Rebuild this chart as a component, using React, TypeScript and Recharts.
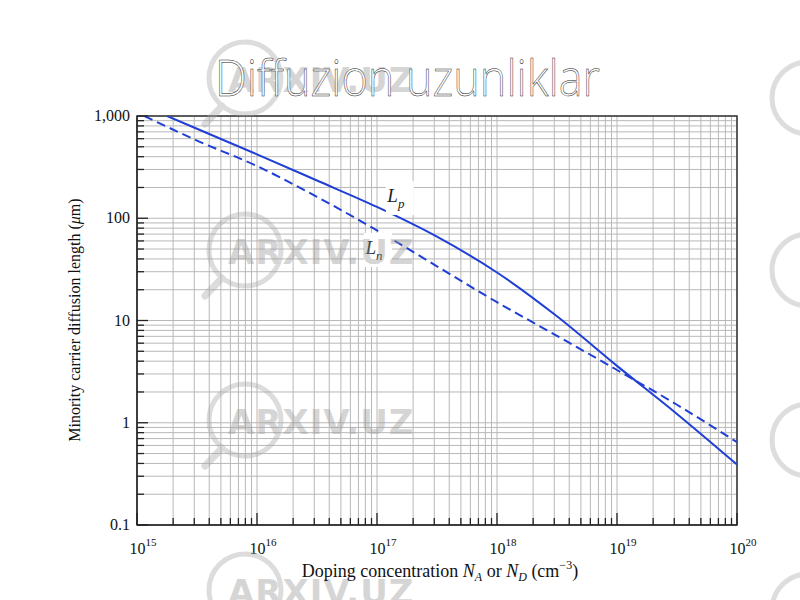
import { LineChart, Line, XAxis, YAxis, CartesianGrid, ReferenceArea, ReferenceDot } from "recharts";

// hole diffusion length L_p (solid)
const lpDoping = [1.78e15, 3.16e15, 1e16, 3.16e16, 1e17, 3.16e17, 1e18, 3.16e18, 1e19, 3.16e19, 1e20];
const lpLength = [1000, 750, 422, 234, 129, 66, 29.5, 11, 3.6, 1.22, 0.39];

// electron diffusion length L_n (dashed)
const lnDoping = [1.15e15, 3.16e15, 1e16, 3.16e16, 1e17, 3.16e17, 1e18, 3.16e18, 1e19, 3.16e19, 1e20];
const lnLength = [1000, 575, 324, 162, 76, 33.9, 15.1, 7.08, 3.28, 1.5, 0.646];

const xDecades = [1e15, 1e16, 1e17, 1e18, 1e19, 1e20];
const xExponents = ["15", "16", "17", "18", "19", "20"];
const yDecades = [0.1, 1, 10, 100, 1000];
const yLabels = ["0.1", "1", "10", "100", "1,000"];

const minorTicks = (decades: number[]) => [
  ...decades.slice(0, -1).flatMap((d) => [1, 2, 3, 4, 5, 6, 7, 8, 9].map((m) => m * d)),
  decades[decades.length - 1],
];

const xTicks = minorTicks(xDecades);
const yTicks = minorTicks(yDecades);

const lpData = lpDoping.map((n, i) => ({ N: n, L: lpLength[i] }));
const lnData = lnDoping.map((n, i) => ({ N: n, L: lnLength[i] }));

const serif = "'Liberation Serif', 'DejaVu Serif', serif";
const blue = "#1f3fd6";

const XTick = (props: any) => {
  const { x, y, index } = props;
  const major = index % 9 === 0;
  return (
    <g>
      <line x1={x} x2={x} y1={y} y2={y - (major ? 12 : 7)} stroke="#222" strokeWidth={1.3} />
      {major && (
        <text x={x + 6} y={y + 29} textAnchor="middle" fontFamily={serif} fontSize={16} fill="#111">
          10
          <tspan dy={-8} fontSize={11}>
            {xExponents[index / 9]}
          </tspan>
        </text>
      )}
    </g>
  );
};

const YTick = (props: any) => {
  const { x, y, index } = props;
  const major = index % 9 === 0;
  return (
    <g>
      <line x1={x} x2={x + (major ? 11 : 7)} y1={y} y2={y} stroke="#222" strokeWidth={1.3} />
      {major && (
        <text x={x - 7} y={y + 5} textAnchor="end" fontFamily={serif} fontSize={16} fill="#111">
          {yLabels[index / 9]}
        </text>
      )}
    </g>
  );
};

const curveLabel = (sub: string) => (p: any) => (
  <g>
    <rect x={p.cx - 14} y={p.cy - 17} width={28} height={34} fill="#fff" />
    <text x={p.cx - 4} y={p.cy + 4} textAnchor="middle" fontFamily={serif} fontStyle="italic" fontSize={19} fill="#222">
      L
      <tspan dy={6} fontSize={13}>
        {sub}
      </tspan>
    </text>
  </g>
);

const Watermark = ({ y }: { y: number }) => (
  <g opacity={0.4}>
    <circle cx={245} cy={y} r={36} fill="none" stroke="#aaa" strokeWidth={5} />
    <line x1={222} y1={y + 28} x2={205} y2={y + 46} stroke="#aaa" strokeWidth={7} strokeLinecap="round" />
    <text x={228} y={y + 14} fontFamily="'DejaVu Sans', sans-serif" fontWeight="bold" fontSize={34} letterSpacing={1} fill="#999">
      ARXIV.UZ
    </text>
    <circle cx={808} cy={y + 20} r={36} fill="none" stroke="#aaa" strokeWidth={5} />
  </g>
);

export default function App() {
  return (
    <div style={{ position: "fixed", left: 0, top: 0, width: 800, height: 600, background: "#fff" }}>
      <LineChart width={800} height={600} margin={{ top: 116, right: 63, bottom: 45, left: 77 }}>
        <CartesianGrid stroke="#b8b8b8" strokeWidth={1} />
        <XAxis
          dataKey="N"
          type="number"
          scale="log"
          domain={[1e15, 1e20]}
          ticks={xTicks}
          interval={0}
          tickSize={0}
          tickMargin={0}
          height={30}
          axisLine={{ stroke: "#333", strokeWidth: 1.5 }}
          tick={<XTick />}
          allowDataOverflow
        />
        <YAxis
          type="number"
          scale="log"
          domain={[0.1, 1000]}
          ticks={yTicks}
          interval={0}
          tickSize={0}
          tickMargin={0}
          width={60}
          axisLine={{ stroke: "#333", strokeWidth: 1.5 }}
          tick={<YTick />}
          allowDataOverflow
        />
        <ReferenceArea x1={1e15} x2={1e20} y1={0.1} y2={1000} fill="none" stroke="#333" strokeWidth={1.5} />
        <ReferenceDot x={1.55e17} y={158} shape={curveLabel("p")} />
        <ReferenceDot x={1.02e17} y={49} shape={curveLabel("n")} />
        <Line data={lpData} dataKey="L" type="monotone" stroke={blue} strokeWidth={2} dot={false} isAnimationActive={false} />
        <Line
          data={lnData}
          dataKey="L"
          type="monotone"
          stroke={blue}
          strokeWidth={2}
          strokeDasharray="9 5"
          dot={false}
          isAnimationActive={false}
        />
      </LineChart>
      <svg width={800} height={600} style={{ position: "absolute", left: 0, top: 0, pointerEvents: "none" }}>
        <Watermark y={78} />
        <Watermark y={250} />
        <Watermark y={420} />
        <Watermark y={590} />
        <text
          x={215}
          y={96}
          textLength={385}
          lengthAdjust="spacingAndGlyphs"
          fontFamily="'Open Sans', sans-serif"
          fontWeight={300}
          fontSize={50}
          fill="#fff"
          stroke="#222"
          strokeWidth={0.5}
        >
          Diffuzion uzunliklar
        </text>
        <text
          transform="translate(80 320) rotate(-90)"
          textAnchor="middle"
          fontFamily={serif}
          fontSize={16}
          fill="#111"
        >
          Minority carrier diffusion length (<tspan fontStyle="italic">μ</tspan>m)
        </text>
        <text x={440} y={577} textAnchor="middle" fontFamily={serif} fontSize={18} fill="#111">
          Doping concentration <tspan fontStyle="italic">N</tspan>
          <tspan fontStyle="italic" fontSize={12} dy={4}>A</tspan>
          <tspan dy={-4}> or </tspan>
          <tspan fontStyle="italic">N</tspan>
          <tspan fontStyle="italic" fontSize={12} dy={4}>D</tspan>
          <tspan dy={-4}> (cm</tspan>
          <tspan fontSize={12} dy={-8}>−3</tspan>
          <tspan dy={8}>)</tspan>
        </text>
      </svg>
    </div>
  );
}
